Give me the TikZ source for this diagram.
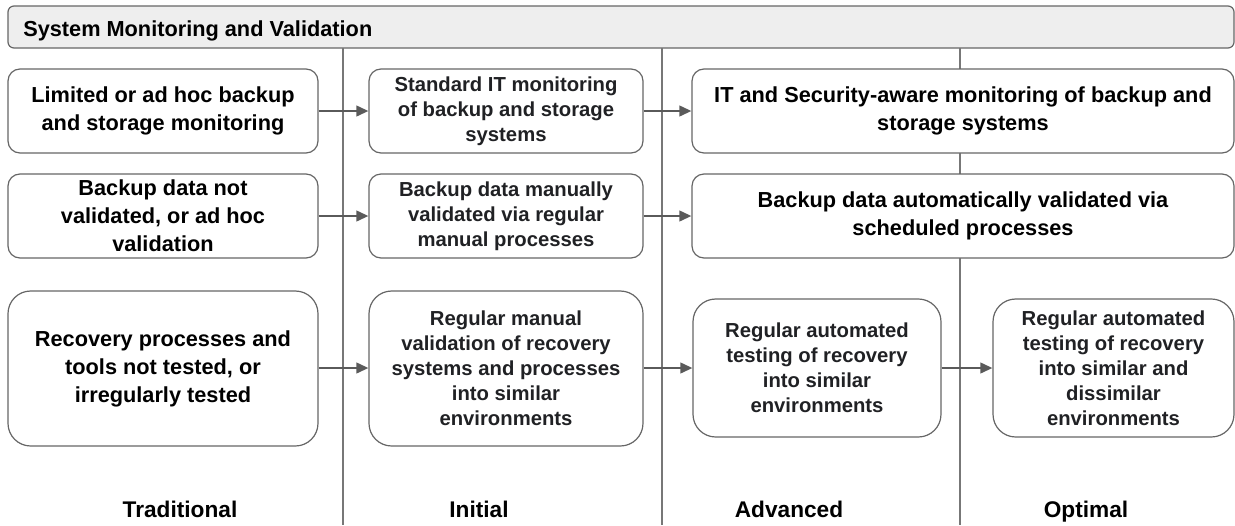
\documentclass[tikz,border=0pt]{standalone}
\usepackage{fontspec}
\setmainfont{Liberation Sans}
\usetikzlibrary{arrows.meta}
\definecolor{bordergray}{HTML}{666666}
\definecolor{linegray}{HTML}{777777}
\definecolor{arrowgray}{HTML}{5A5A5A}
\definecolor{headfill}{HTML}{EEEEEE}
\definecolor{robotext}{HTML}{202124}
\newcommand\txtA{\fontsize{16.3}{21}\selectfont\bfseries}
\newcommand\txtR{\fontsize{15.2}{18.75}\selectfont\bfseries\color{robotext}}
\newcommand\txtL{\fontsize{17}{20}\selectfont\bfseries}
\tikzset{
  box/.style={draw=bordergray, line width=0.9pt, fill=white, rounded corners=9pt, inner sep=0pt, align=center},
  tallbox/.style={box, rounded corners=17pt},
  flowarrow/.style={draw=arrowgray, line width=1.5pt, -{Triangle[length=9pt,width=8pt]}},
  divider/.style={draw=linegray, line width=1pt},
  header/.style={draw=bordergray, line width=0.9pt, fill=headfill, rounded corners=4.5pt},
  collabel/.style={anchor=base, inner sep=0pt, font=\txtL}
}
\begin{document}
\begin{tikzpicture}[x=0.75pt,y=-0.75pt]
\useasboundingbox (0,0) rectangle (1235,525);
% header
\node[header, minimum width=919.5pt, minimum height=31.5pt, inner sep=0pt] (head) at (621,27) {};
\node[anchor=base west, inner sep=0pt, font=\txtA] (headtext) at (23,36) {System Monitoring and Validation};
% dividers
\coordinate (d1t) at (343,48); \coordinate (d1b) at (343,525);
\coordinate (d2t) at (662,48); \coordinate (d2b) at (662,525);
\coordinate (d3t) at (960,48); \coordinate (d3b) at (960,525);
\draw[divider] (d1t) -- (d1b);
\draw[divider] (d2t) -- (d2b);
\draw[divider] (d3t) -- (d3b);
% traditional
\node[box, minimum width=232.5pt, minimum height=63pt, font=\txtA] (t1) at (163,111) {Limited or ad hoc backup\\and storage monitoring};
\node[box, minimum width=232.5pt, minimum height=63pt, font=\txtA] (t2) at (163,216) {Backup data not\\validated, or ad hoc\\validation};
\node[tallbox, minimum width=232.5pt, minimum height=116.25pt, font=\txtA] (t3) at (163,368.5) {Recovery processes and\\tools not tested, or\\irregularly tested};
% initial
\node[box, minimum width=205.5pt, minimum height=63pt, font=\txtR] (i1) at (506,111) {Standard IT monitoring\\of backup and storage\\systems};
\node[box, minimum width=205.5pt, minimum height=63pt, font=\txtR] (i2) at (506,216) {Backup data manually\\validated via regular\\manual processes};
\node[tallbox, minimum width=205.5pt, minimum height=116.25pt, font=\txtR] (i3) at (506,368.5) {Regular manual\\validation of recovery\\systems and processes\\into similar\\environments};
% advanced / optimal
\node[box, minimum width=406.5pt, minimum height=63pt, font=\txtA] (a1) at (963,111) {IT and Security-aware monitoring of backup and\\storage systems};
\node[box, minimum width=406.5pt, minimum height=63pt, font=\txtA] (a2) at (963,216) {Backup data automatically validated via\\scheduled processes};
\node[tallbox, minimum width=186pt, minimum height=103.5pt, font=\txtR] (a3) at (817,368) {Regular automated\\testing of recovery\\into similar\\environments};
\node[tallbox, minimum width=180.75pt, minimum height=103.5pt, font=\txtR] (o3) at (1113.5,368) {Regular automated\\testing of recovery\\into similar and\\dissimilar\\environments};
% arrows
\draw[flowarrow] (t1) -- (i1);
\draw[flowarrow] (i1) -- (a1);
\draw[flowarrow] (t2) -- (i2);
\draw[flowarrow] (i2) -- (a2);
\draw[flowarrow] (t3.east |- a3.west) -- (i3.west |- a3.west);
\draw[flowarrow] (i3.east |- a3.west) -- (a3.west);
\draw[flowarrow] (a3) -- (o3);
% column labels
\node[collabel] (lt) at (180,517) {Traditional};
\node[collabel] (li) at (479,517) {Initial};
\node[collabel] (la) at (789,517) {Advanced};
\node[collabel] (lo) at (1086,517) {Optimal};
\end{tikzpicture}
\end{document}
